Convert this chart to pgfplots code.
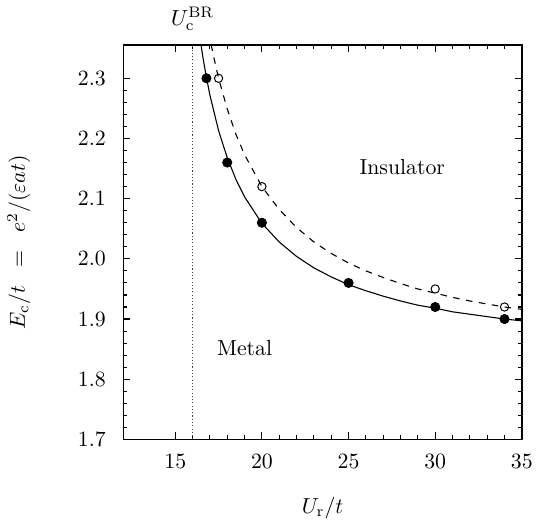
\documentclass[border=0pt]{standalone}
\usepackage{pgfplots}
\pgfplotsset{compat=1.18}
\begin{document}
\begin{tikzpicture}
\begin{axis}[
  width=183pt, height=181pt, scale only axis,
  xmin=12, xmax=35, ymin=1.7, ymax=2.355,
  xtick={15,20,25,30,35},
  ytick={1.7,1.8,1.9,2.0,2.1,2.2,2.3},
  minor x tick num=4, minor y tick num=4,
  tick align=inside, tick pos=both,
  major tick length=3.3pt, minor tick length=1.9pt,
  axis line style={line width=0.7pt},
  every tick/.style={line width=0.5pt, black},
  y tick label style={/pgf/number format/fixed, /pgf/number format/fixed zerofill, /pgf/number format/precision=1, xshift=-4.5pt},
  x tick label style={yshift=-3.5pt},
  xlabel={$U_{\mathrm{r}}/t$},
  ylabel={$E_{\mathrm{c}}/t \;\;=\;\; e^2/(\varepsilon a t)$},
  x label style={at={(axis description cs:0.5,-0.174)}, anchor=center},
  y label style={at={(axis description cs:-0.262,0.5)}, anchor=center},
]
\addplot[black!75, densely dotted, line width=0.5pt] coordinates {(16,1.7) (16,2.355)};
\addplot[black, line width=0.5pt] coordinates {
(16.49,2.355) (16.6,2.334) (16.8,2.301) (17.0,2.272) (17.5,2.213) (18,2.168)
(18.5,2.132) (19,2.103) (20,2.059) (21,2.028) (22,2.004) (23,1.985) (24,1.970)
(25,1.957) (26,1.947) (27,1.938) (28,1.930) (29,1.923) (30,1.918) (31,1.912)
(32,1.908) (33,1.904) (34,1.900) (35,1.897)};
\addplot[black, dashed, line width=0.5pt] coordinates {
(17.07,2.356) (17.2,2.338) (17.5,2.300) (18,2.249) (18.5,2.207) (19,2.173)
(20,2.120) (21,2.082) (22,2.052) (23,2.028) (24,2.009) (25,1.993) (26,1.980)
(27,1.969) (28,1.959) (29,1.950) (30,1.943) (31,1.936) (32,1.930) (33,1.925)
(34,1.920) (35,1.916)};
\addplot[only marks, mark=*, mark size=2.1pt, black] coordinates {
(16.8,2.30) (18,2.16) (20,2.06) (25,1.96) (30,1.92) (34,1.90)};
\addplot[only marks, mark=o, mark size=1.9pt, black, mark options={line width=0.45pt}] coordinates {
(17.5,2.30) (20,2.12) (30,1.95) (34,1.92)};
\node at (axis cs:28.1,2.152) {Insulator};
\node at (axis cs:19.0,1.852) {Metal};
\coordinate (uc) at (axis cs:16,2.355);
\end{axis}
\node[anchor=south, yshift=3pt] at (uc) {$U_{\mathrm{c}}^{\mathrm{BR}}$};
\end{tikzpicture}
\end{document}
